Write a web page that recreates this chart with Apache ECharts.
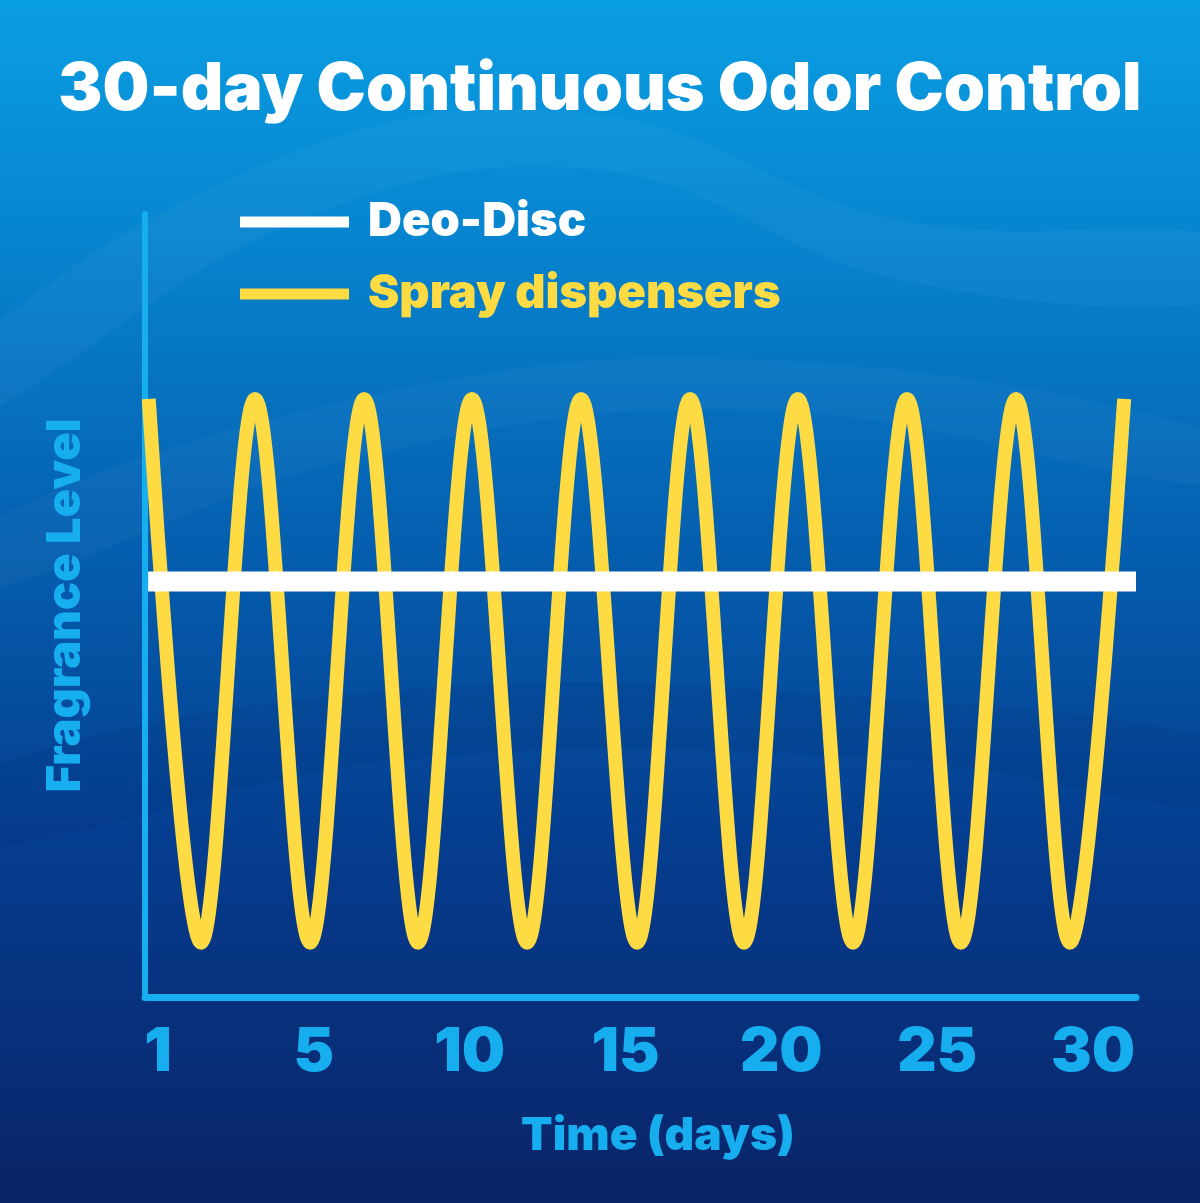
<!DOCTYPE html>
<html>
<head>
<meta charset="utf-8">
<script src="https://cdn.jsdelivr.net/npm/echarts@6/dist/echarts.min.js"></script>
<style>
html,body{margin:0;padding:0;background:#0560ad;}
#chart{width:1200px;height:1203px;}
</style>
</head>
<body>
<div id="chart"></div>
<script>
// ---- data ----
const tickLabels = ['1', '5', '10', '15', '20', '25', '30'];
// Spray dispensers: peaks and troughs of the oscillating fragrance level
const sprayX = [0.12, 1.80, 3.53, 5.30, 7.03, 8.76, 10.49, 12.26, 13.99, 15.79, 17.49, 19.22, 20.95, 22.72, 24.45, 26.18, 27.95, 29.68, 31.42];
const sprayY = [100, 0, 100, 0, 100, 0, 100, 0, 100, 0, 100, 0, 100, 0, 100, 0, 100, 0, 100];
// Deo-Disc: constant fragrance level
const deoX = [0.1, 31.8];
const deoY = [66.4, 66.4];

const FONT = 'Inter';
const AXIS_COLOR = '#17aef0';
const YELLOW = '#fedb42';

const chart = echarts.init(document.getElementById('chart'), null, {renderer: 'canvas'});

const option = {
  backgroundColor: {
    type: 'linear', x: 0, y: 0, x2: 0, y2: 1,
    colorStops: [
      {offset: 0, color: '#0a9ee2'},
      {offset: 0.2, color: '#0784cf'},
      {offset: 0.45, color: '#055fb0'},
      {offset: 0.7, color: '#053d8f'},
      {offset: 1, color: '#0a2468'}
    ]
  },
  animation: false,
  graphic: [
    {type: 'polygon', silent: true, z: -10,
     shape: {smooth: 0.4, points: [[-50, 360], [300, 150], [600, 115], [900, 220], [1250, 240], [1250, 300], [900, 280], [600, 170], [300, 220], [-50, 430]]},
     style: {fill: 'rgba(255,255,255,0.035)'}},
    {type: 'polygon', silent: true, z: -10,
     shape: {smooth: 0.4, points: [[-50, 540], [350, 400], [760, 360], [1250, 440], [1250, 490], [760, 410], [350, 460], [-50, 600]]},
     style: {fill: 'rgba(255,255,255,0.03)'}},
    {type: 'polygon', silent: true, z: -10,
     shape: {smooth: 0.4, points: [[-50, 780], [400, 690], [900, 700], [1250, 750], [1250, 810], [900, 760], [400, 760], [-50, 850]]},
     style: {fill: 'rgba(0,20,80,0.08)'}}
  ],
  title: {
    text: '30-day Continuous Odor Control',
    left: 'center',
    top: 52,
    textStyle: {color: '#ffffff', fontFamily: FONT, fontWeight: 900, fontSize: 66}
  },
  legend: {
    orient: 'vertical',
    left: 240,
    top: 194,
    padding: 0,
    itemWidth: 109,
    itemHeight: 11,
    itemGap: 16,
    icon: 'rect',
    textStyle: {fontFamily: FONT, fontWeight: 900, fontSize: 47, lineHeight: 56, padding: [0, 0, 0, 14]},
    data: [
      {name: 'Deo-Disc', textStyle: {color: '#ffffff'}},
      {name: 'Spray dispensers', textStyle: {color: YELLOW}}
    ]
  },
  grid: [
    {left: 145, right: 64, top: 214, bottom: 206},
    {left: 158, right: 107, top: 214, bottom: 206}
  ],
  xAxis: [
    {
      type: 'value', gridIndex: 0, min: 0, max: 31.8,
      axisLine: {show: true, onZero: false, lineStyle: {color: AXIS_COLOR, width: 7}},
      axisTick: {show: false}, axisLabel: {show: false}, splitLine: {show: false},
      name: 'Time (days)', nameLocation: 'middle', nameGap: 116,
      nameTextStyle: {color: AXIS_COLOR, fontFamily: FONT, fontWeight: 900, fontSize: 46, padding: [0, 0, 0, 35]}
    },
    {
      type: 'category', gridIndex: 1, data: tickLabels, boundaryGap: false,
      axisLine: {show: false}, axisTick: {show: false}, splitLine: {show: false},
      axisLabel: {color: AXIS_COLOR, fontFamily: FONT, fontWeight: 900, fontSize: 61, margin: 56, verticalAlign: 'middle'}
    }
  ],
  yAxis: [
    {
      type: 'value', gridIndex: 0, min: -10, max: 134,
      axisLine: {show: true, onZero: false, lineStyle: {color: AXIS_COLOR, width: 6}},
      axisTick: {show: false}, axisLabel: {show: false}, splitLine: {show: false},
      name: 'Fragrance Level', nameLocation: 'middle', nameGap: 56,
      nameTextStyle: {color: AXIS_COLOR, fontFamily: FONT, fontWeight: 900, fontSize: 47}
    },
    {
      type: 'value', gridIndex: 1, min: 0, max: 1, show: false
    }
  ],
  series: [
    {
      name: 'Spray dispensers',
      type: 'line',
      xAxisIndex: 0, yAxisIndex: 0,
      data: sprayX.map((x, i) => [x, sprayY[i]]),
      smooth: 0.35,
      symbol: 'none',
      lineStyle: {color: YELLOW, width: 14},
      itemStyle: {color: YELLOW},
      z: 2
    },
    {
      name: 'Deo-Disc',
      type: 'line',
      xAxisIndex: 0, yAxisIndex: 0,
      data: deoX.map((x, i) => [x, deoY[i]]),
      symbol: 'none',
      lineStyle: {color: '#ffffff', width: 20, cap: 'butt'},
      itemStyle: {color: '#ffffff'},
      z: 3
    }
  ]
};
chart.setOption(option);
</script>
</body>
</html>
